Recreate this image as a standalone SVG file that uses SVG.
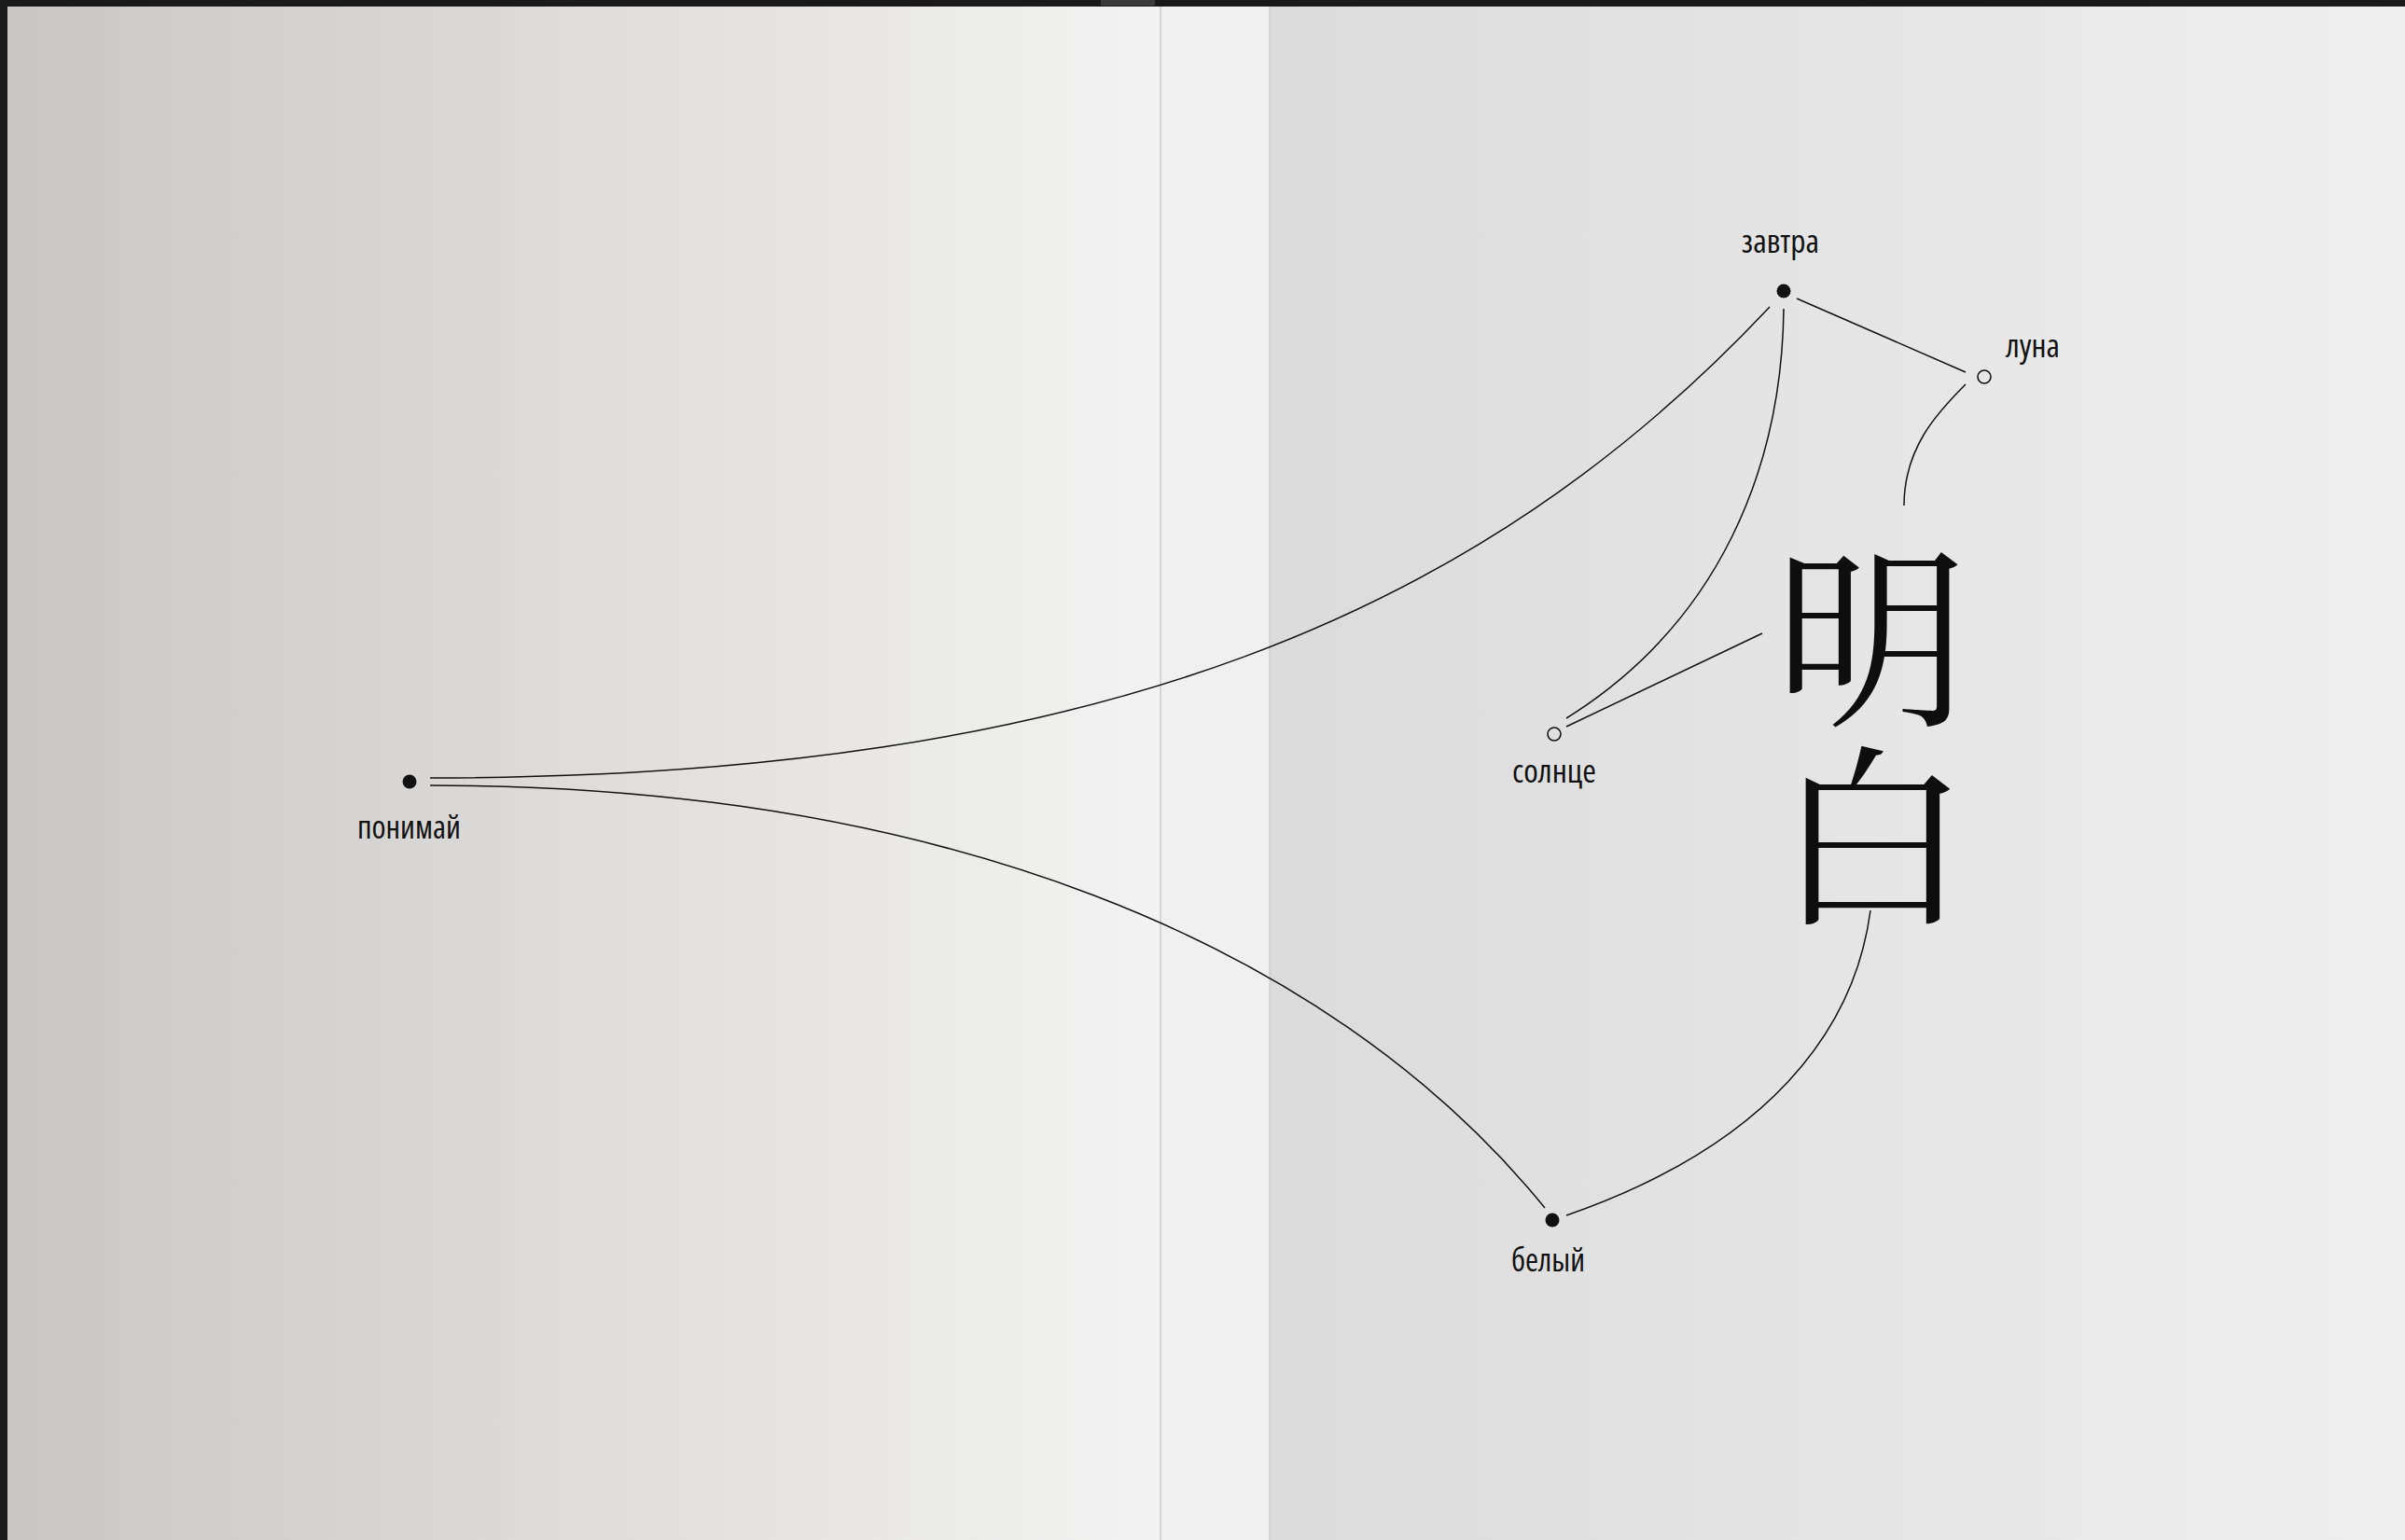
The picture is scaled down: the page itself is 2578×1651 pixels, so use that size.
<svg xmlns="http://www.w3.org/2000/svg" width="2578" height="1651" viewBox="0 0 2578 1651">
<defs>
<linearGradient id="gl" x1="8" y1="0" x2="1243" y2="0" gradientUnits="userSpaceOnUse">
<stop offset="0" stop-color="#c8c7c5"/>
<stop offset="0.5" stop-color="#dedddb"/>
<stop offset="1" stop-color="#f3f3f3"/>
</linearGradient>
<linearGradient id="gr" x1="1363" y1="0" x2="2578" y2="0" gradientUnits="userSpaceOnUse">
<stop offset="0" stop-color="#dbdbdb"/>
<stop offset="1" stop-color="#efefef"/>
</linearGradient>
<style>
.lbl{font-family:"Open Sans","Noto Sans","Liberation Sans",sans-serif;font-stretch:condensed;font-size:34px;fill:#111;}
.cjk{font-family:"Noto Serif CJK SC","Noto Sans CJK SC","Noto Sans CJK JP",sans-serif;font-size:208px;fill:#0e0e0e;text-anchor:middle;}
.dot{fill:#111;}
.ring{fill:none;stroke:#111;stroke-width:1.6;}
.edge{fill:none;stroke:#111;stroke-width:1.5;}
</style>
</defs>
<g id="background">
<rect x="0" y="0" width="2578" height="1651" fill="#1a1a1a"/>
<rect x="1180" y="0" width="58" height="6" fill="#3a3a3a"/>
<rect x="8" y="7" width="1235" height="1644" fill="url(#gl)"/>
<rect x="1243" y="7" width="2" height="1644" fill="#d5d5d5"/>
<rect x="1245" y="7" width="115" height="1644" fill="#f0f0f0"/>
<rect x="1360" y="7" width="3" height="1644" fill="#d6d6d6"/>
<rect x="1363" y="7" width="1215" height="1644" fill="url(#gr)"/>
</g>
<g id="connectors">
<path class="edge" d="M461,834 C1180,834 1590,656 1897,329"/>
<path class="edge" d="M461,842 C1000,842 1420,1005 1656,1295"/>
<path class="edge" d="M1912,331 C1910,500 1844,667 1679,770"/>
<path class="edge" d="M1926,320 L2107,399"/>
<path class="edge" d="M2107,412 C2077,442 2041,480 2041,542"/>
<path class="edge" d="M1679,779 L1889,679"/>
<path class="edge" d="M2005,976 C1988,1105 1895,1228 1679,1303"/>
</g>
<g id="node-zavtra">
<circle class="dot" cx="1912" cy="312" r="7.5"/>
<text class="lbl" x="1867" y="271" textLength="83" lengthAdjust="spacingAndGlyphs">завтра</text>
</g>
<g id="node-luna">
<circle class="ring" cx="2127" cy="404" r="7"/>
<text class="lbl" x="2150" y="383" textLength="58" lengthAdjust="spacingAndGlyphs">луна</text>
</g>
<g id="node-solntse">
<circle class="ring" cx="1666" cy="787" r="7"/>
<text class="lbl" x="1621" y="839" textLength="90" lengthAdjust="spacingAndGlyphs">солнце</text>
</g>
<g id="node-ponimay">
<circle class="dot" cx="439" cy="838" r="7.5"/>
<text class="lbl" x="383" y="899" textLength="111" lengthAdjust="spacingAndGlyphs">понимай</text>
</g>
<g id="node-belyy">
<circle class="dot" cx="1664" cy="1308" r="7.5"/>
<text class="lbl" x="1620" y="1363" textLength="79" lengthAdjust="spacingAndGlyphs">белый</text>
</g>
<g id="node-mingbai">
<text class="cjk"><tspan x="2006" y="762">明</tspan><tspan x="2007" y="975">白</tspan></text>
</g>
</svg>
